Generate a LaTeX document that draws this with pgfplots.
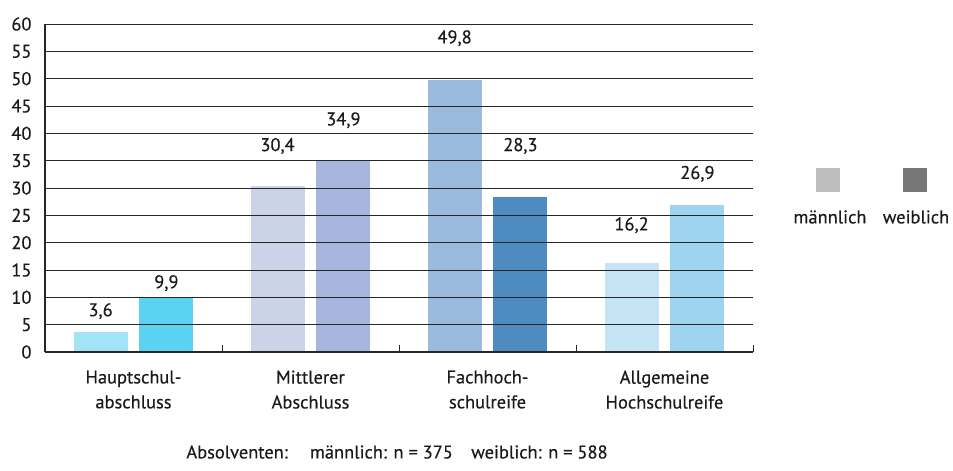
\documentclass[border=0pt]{standalone}
\usepackage{pgfplots}
\pgfplotsset{compat=1.18}
\usepackage{fontspec}
\setmainfont{PT Sans}[FakeBold=0.35]
\definecolor{cA}{HTML}{A0E4F6}
\definecolor{cB}{HTML}{5AD2F2}
\definecolor{cC}{HTML}{CBD3E9}
\definecolor{cD}{HTML}{A8B5DE}
\definecolor{cE}{HTML}{9BBBDE}
\definecolor{cF}{HTML}{4D8BC1}
\definecolor{cG}{HTML}{C5E5F5}
\definecolor{cH}{HTML}{9DD5F0}
\definecolor{gm}{HTML}{BDBDBD}
\definecolor{gw}{HTML}{777777}
\definecolor{txt}{HTML}{1A1A1A}
\newcommand{\fs}{\fontsize{18.5}{25}\selectfont}
\begin{document}
\begin{tikzpicture}[x=1bp,y=1bp]
\path[use as bounding box] (0,0) rectangle (953,471);
\begin{axis}[
  at={(45bp,119bp)}, anchor=south west,
  width=708bp, height=328bp, scale only axis,
  xmin=0.5, xmax=4.5, ymin=0, ymax=60,
  ytick={0,5,...,60},
  ymajorgrids,
  grid style={black!85, line width=0.8pt},
  axis on top,
  axis x line*=bottom, axis y line*=left,
  axis line style={-, black!85, line width=1.2pt},
  ytick style={draw=none},
  xtick={1.5,2.5,3.5,4.5},
  xticklabels={},
  tick align=inside,
  xtick style={black!85, line width=1pt},
  major tick length=7bp,
  extra x ticks={1,2,3,4},
  extra x tick labels={{Hauptschul-\\abschluss},{Mittlerer\\Abschluss},{Fachhoch-\\schulreife},{Allgemeine\\Hochschulreife}},
  extra x tick style={major tick length=0pt, tick style={draw=none}},
  xticklabel style={font=\fs, align=center, text=txt, yshift=-15bp},
  yticklabel style={font=\fs, text=txt, xshift=-10bp},
  /pgf/number format/assume math mode=true,
  bar width=0.305,
]
\addplot[ybar, fill=cA, draw=none, bar shift=-0.186] coordinates {(1,3.6)};
\addplot[ybar, fill=cB, draw=none, bar shift=0.186] coordinates {(1,9.9)};
\addplot[ybar, fill=cC, draw=none, bar shift=-0.186] coordinates {(2,30.4)};
\addplot[ybar, fill=cD, draw=none, bar shift=0.186] coordinates {(2,34.9)};
\addplot[ybar, fill=cE, draw=none, bar shift=-0.186] coordinates {(3,49.8)};
\addplot[ybar, fill=cF, draw=none, bar shift=0.186] coordinates {(3,28.3)};
\addplot[ybar, fill=cG, draw=none, bar shift=-0.186] coordinates {(4,16.2)};
\addplot[ybar, fill=cH, draw=none, bar shift=0.186] coordinates {(4,26.9)};
\node[font=\fs, text=txt] at (axis cs:0.814,7.5) {3,6};
\node[font=\fs, text=txt] at (axis cs:1.186,12.6) {9,9};
\node[font=\fs, text=txt] at (axis cs:1.814,37.7) {30,4};
\node[font=\fs, text=txt] at (axis cs:2.186,42.4) {34,9};
\node[font=\fs, text=txt] at (axis cs:2.814,57.4) {49,8};
\node[font=\fs, text=txt] at (axis cs:3.186,37.7) {28,3};
\node[font=\fs, text=txt] at (axis cs:3.814,23.2) {16,2};
\node[font=\fs, text=txt] at (axis cs:4.186,32.6) {26,9};
\end{axis}
\fill[gm] (816,279) rectangle (840,303);
\fill[gw] (903,279) rectangle (927,303);
\node[font=\fs, text=txt] at (830,254) {männlich};
\node[font=\fs, text=txt] at (916,254) {weiblich};
\node[font=\fs, text=txt] at (397,19) {Absolventen:\hspace{1.2em}männlich: n = 375\hspace{1em}weiblich: n = 588};
\end{tikzpicture}
\end{document}
